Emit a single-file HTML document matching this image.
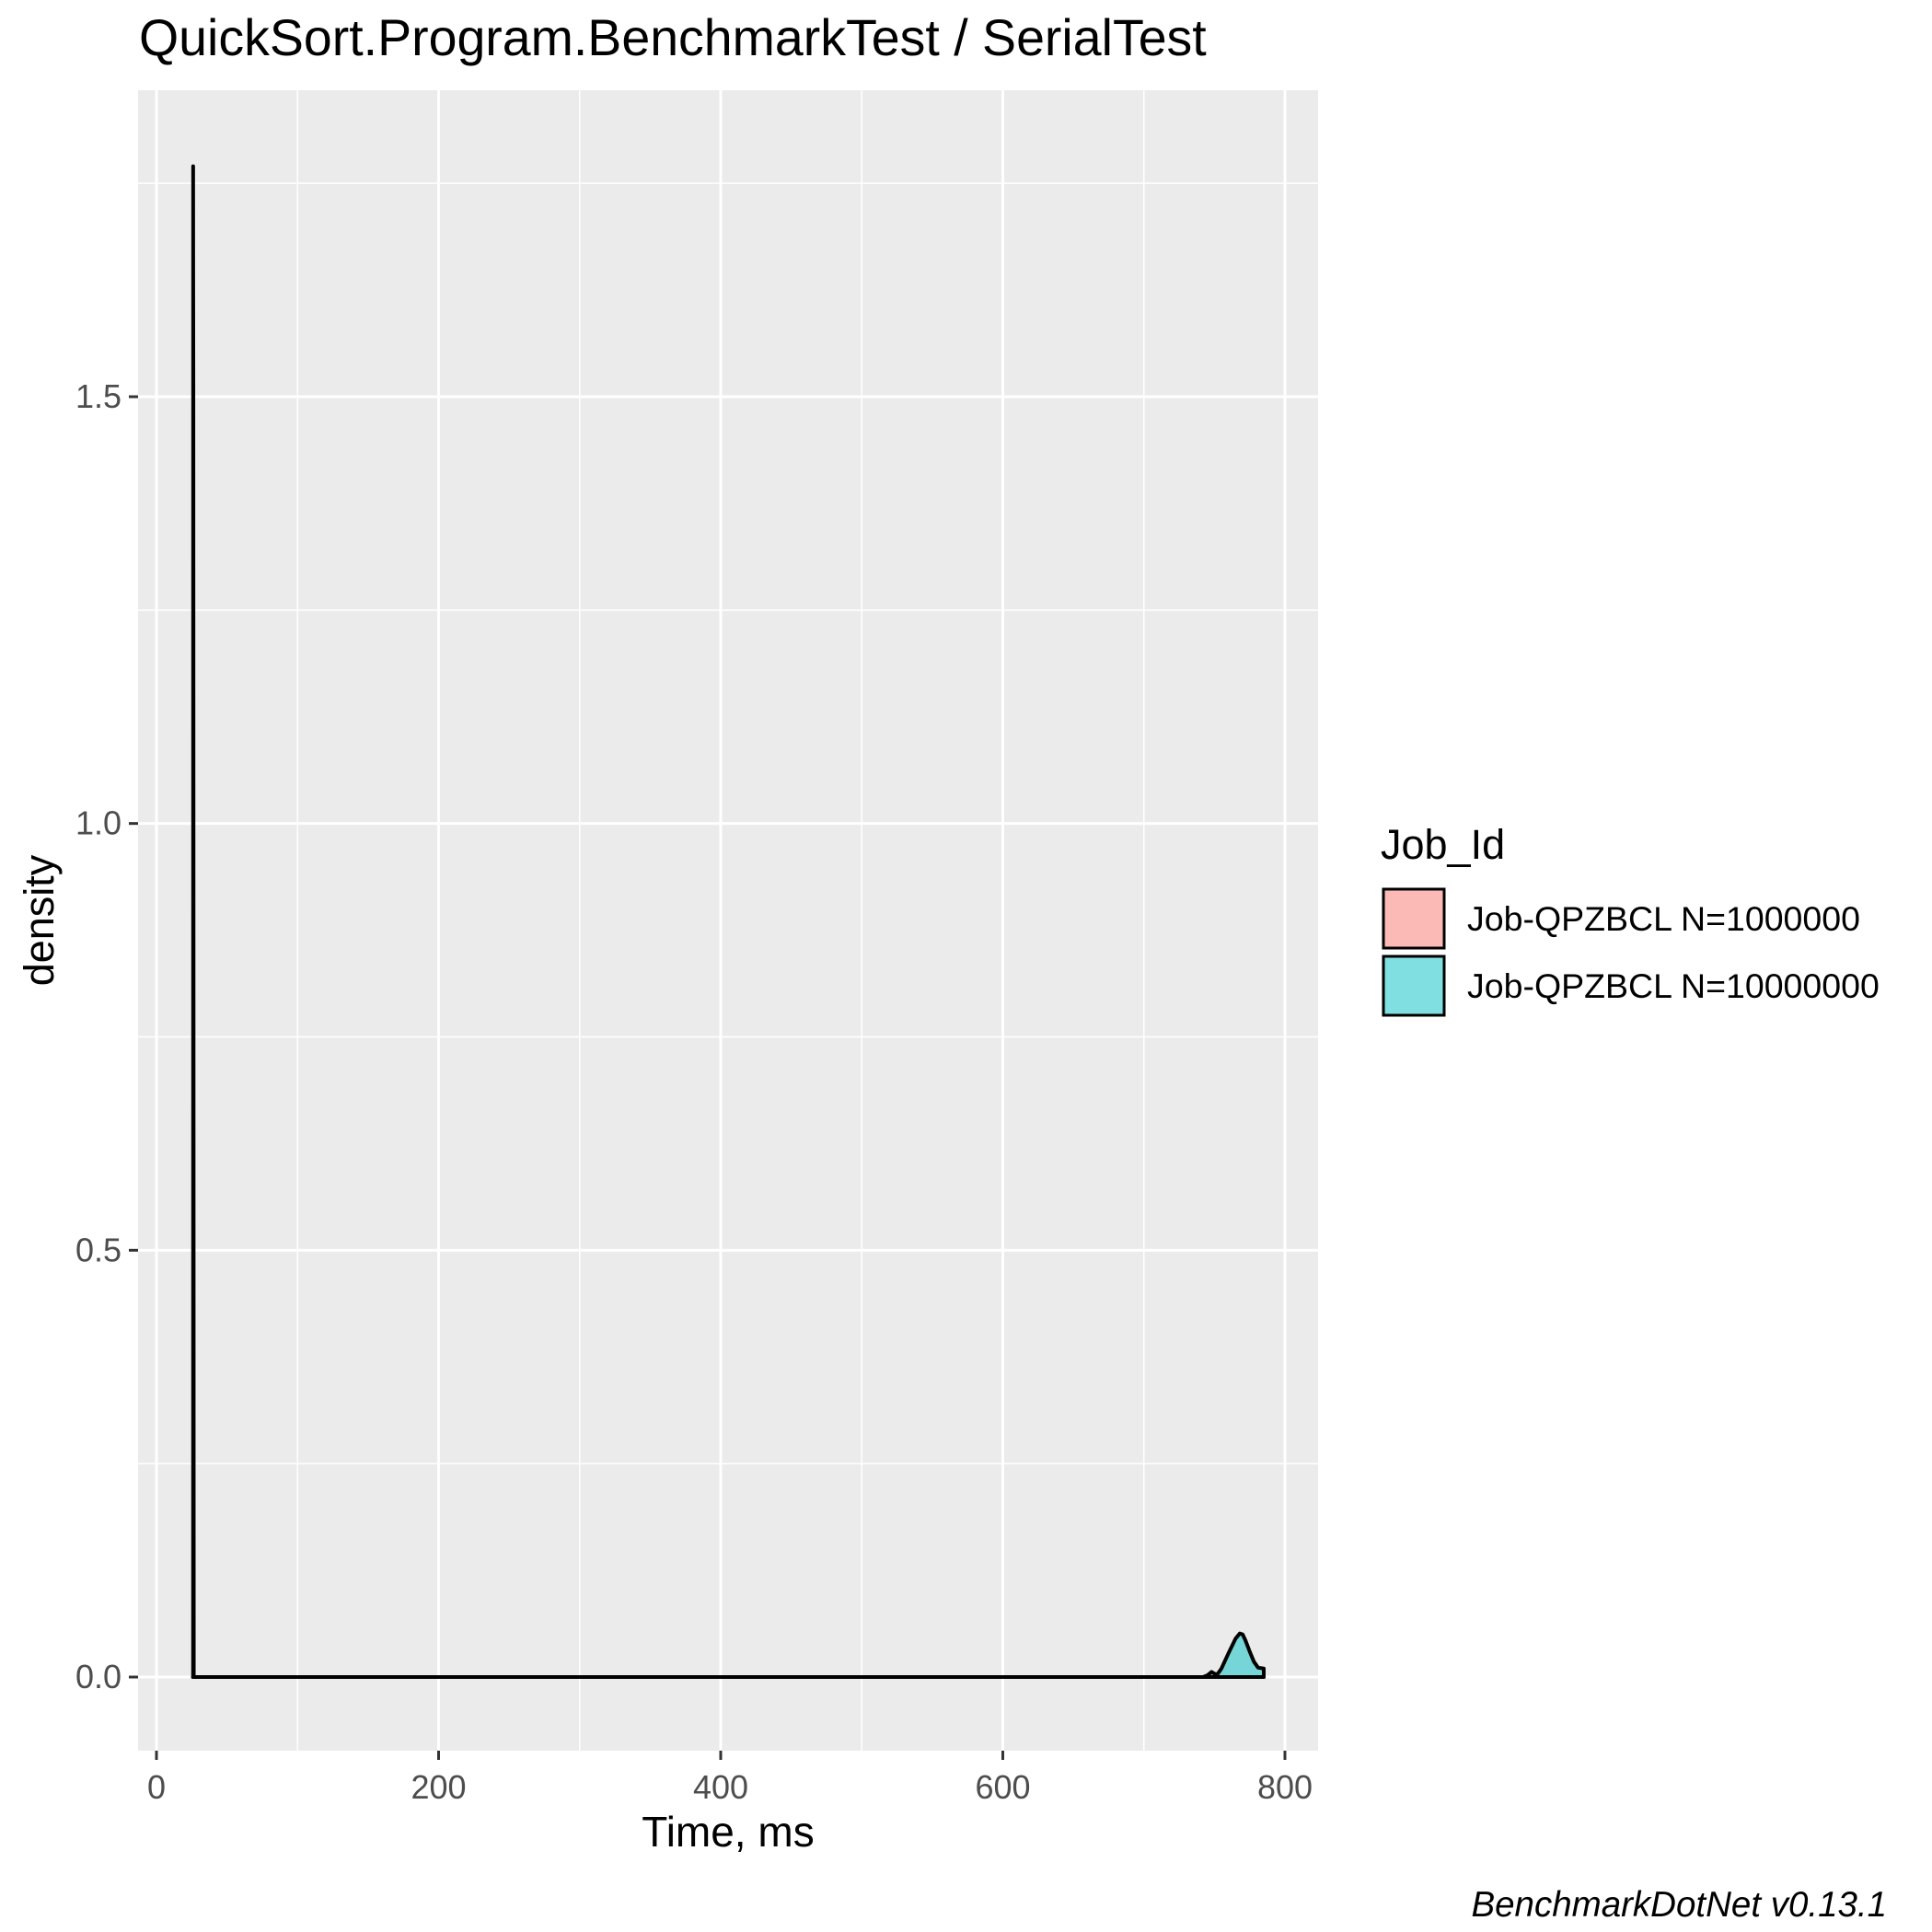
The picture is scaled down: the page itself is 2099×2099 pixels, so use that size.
<!DOCTYPE html>
<html><head><meta charset="utf-8"><style>
html,body{margin:0;padding:0;background:#fff;}
svg{display:block;font-family:"Liberation Sans",sans-serif;}
</style></head><body>
<svg id="chart" width="2099" height="2099" viewBox="0 0 2099 2099" xmlns="http://www.w3.org/2000/svg">
<text x="151" y="60" font-size="55.5" fill="#000">QuickSort.Program.BenchmarkTest / SerialTest</text>
<rect x="150" y="98" width="1282" height="1804" fill="#EBEBEB"/>
<g id="grid"></g>
<g id="series"></g>
<g id="axes"></g>
<text x="791" y="2006" font-size="46" text-anchor="middle" fill="#000">Time, ms</text>
<text x="0" y="0" font-size="45" text-anchor="middle" fill="#000" transform="translate(58,1000) rotate(-90)">density</text>
<g>
<text x="1500" y="933" font-size="45" fill="#000">Job_Id</text>
<rect x="1503" y="966" width="66" height="64" fill="#FBBAB6" stroke="#000" stroke-width="3"/>
<text x="1594" y="1011" font-size="37.5" fill="#000">Job-QPZBCL N=1000000</text>
<rect x="1503" y="1039" width="66" height="64" fill="#7FDFE1" stroke="#000" stroke-width="3"/>
<text x="1594" y="1084" font-size="37.5" fill="#000">Job-QPZBCL N=10000000</text>
</g>
<text x="2050" y="2082" font-size="38.5" font-style="italic" text-anchor="end" fill="#000">BenchmarkDotNet v0.13.1</text>
</svg>
<script>
const xTicks=[0,200,400,600,800];
const xMinor=[100,300,500,700];
const yTicks=[0.0,0.5,1.0,1.5];
const yTickLabels=["0.0","0.5","1.0","1.5"];
const yMinor=[0.25,0.75,1.25,1.75];
const seriesNames=["Job-QPZBCL N=1000000","Job-QPZBCL N=10000000"];
const s1x=[25.8,25.95,26.0,26.05,26.15,26.3,26.45,26.6,100,300,500,700,785];
const s1y=[0,0,1.77,1.64,1.51,0.76,0,0,0,0,0,0,0];
const s2x=[742,745,748,750,752,755,760,765,768,770,772,775,778,781,785];
const s2y=[0,0.002,0.006,0.004,0.003,0.01,0.028,0.045,0.051,0.05,0.043,0.03,0.018,0.011,0.01];
const fills=["rgba(248,118,109,0.5)","rgba(0,191,196,0.5)"];

const PX0=150,PX1=1432,PY0=98,PY1=1902;
function sx(v){return 170+(v-0)*(1396-170)/800;}
function sy(v){return 1822-v*(1822-431)/1.5;}
const NS="http://www.w3.org/2000/svg";
function mk(tag,attrs,parent){const e=document.createElementNS(NS,tag);for(const k in attrs)e.setAttribute(k,attrs[k]);parent.appendChild(e);return e;}
const grid=document.getElementById('grid'),axes=document.getElementById('axes'),ser=document.getElementById('series');
xMinor.forEach(v=>{const l=mk('line',{x1:sx(v),x2:sx(v),y1:PY0,y2:PY1,stroke:'#fff','stroke-width':1.5},grid);

});
yMinor.forEach(v=>{const l=mk('line',{x1:PX0,x2:PX1,y1:sy(v),y2:sy(v),stroke:'#fff','stroke-width':1.5},grid);

});
xTicks.forEach(v=>{const l=mk('line',{x1:sx(v),x2:sx(v),y1:PY0,y2:PY1,stroke:'#fff','stroke-width':3},grid);


const t=mk('line',{x1:sx(v),x2:sx(v),y1:PY1,y2:PY1+10,stroke:'#333','stroke-width':3},axes);


const tx=mk('text',{x:sx(v),y:1954,'font-size':36,'text-anchor':'middle',fill:'#4D4D4D'},axes);tx.textContent=String(v);

});
yTicks.forEach((v,i)=>{const l=mk('line',{x1:PX0,x2:PX1,y1:sy(v),y2:sy(v),stroke:'#fff','stroke-width':3},grid);


const t=mk('line',{x1:PX0-10,x2:PX0,y1:sy(v),y2:sy(v),stroke:'#333','stroke-width':3},axes);


const tx=mk('text',{x:PX0-18,y:sy(v)+12,'font-size':36,'text-anchor':'end',fill:'#4D4D4D'},axes);tx.textContent=yTickLabels[i];

});
function drawSeries(xs,ys,fill,name){
 let d='M'+sx(xs[0])+','+sy(0);
 xs.forEach((x,i)=>{d+=' L'+sx(x)+','+sy(ys[i]);});
 d+=' L'+sx(xs[xs.length-1])+','+sy(0)+' Z';
 const a=mk('path',{d:d,fill:fill,stroke:'none'},ser);
 
 
 const l=mk('path',{d:d,fill:'none',stroke:'#000','stroke-width':4,'stroke-linejoin':'round'},ser);
 
 
}
drawSeries(s1x,s1y,fills[0],'density-n1000000');
drawSeries(s2x,s2y,fills[1],'density-n10000000');
</script>
</body></html>
